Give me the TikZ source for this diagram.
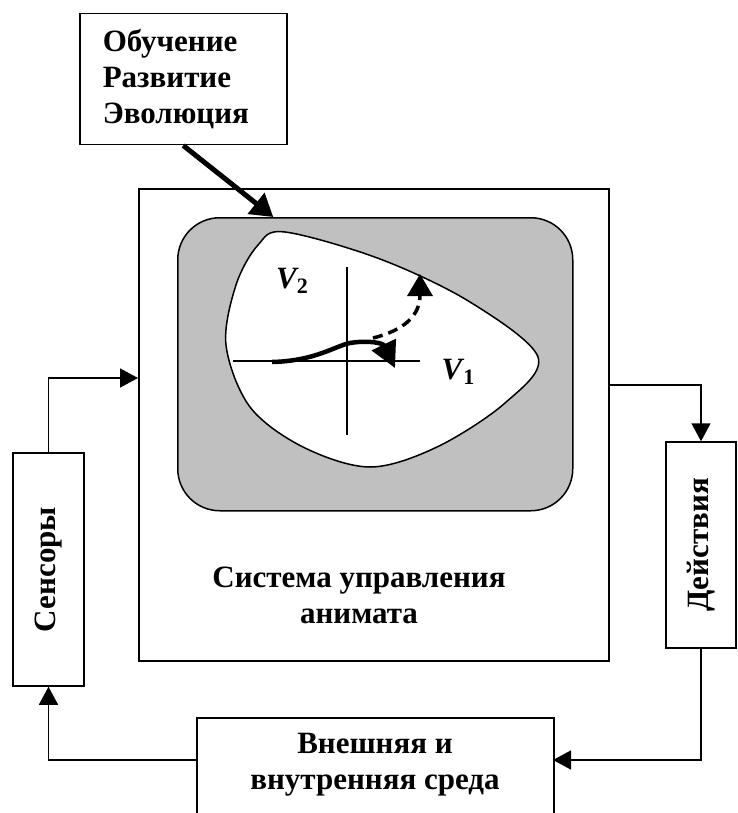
\documentclass[tikz,border=0pt]{standalone}
\usepackage{fontspec}
\setmainfont{Liberation Serif}
\usetikzlibrary{arrows.meta,calc}
\begin{document}
\begin{tikzpicture}[x=1pt,y=-1pt,
  lbl/.style={font=\fontsize{31}{36}\selectfont\bfseries, align=center},
  boxed/.style={draw, line width=1.5pt, inner sep=0pt},
  conn/.style={line width=1.5pt, -{Triangle[length=18pt,width=19pt]}},
]
\clip (0,0) rectangle (737,813);
% learning box
\node[boxed, lbl, align=left, anchor=north west, minimum width=207pt, minimum height=131pt, text width=161pt, inner xsep=23pt] (learn) at (79,13) {Обучение\\Развитие\\Эволюция};
% main system box
\node[boxed, anchor=north west, minimum width=470pt, minimum height=472pt] (sys) at (138,188) {};
% gray zone
\node[draw, line width=1.5pt, fill={rgb,255:red,192;green,192;blue,192}, rounded corners=42pt, anchor=north west, minimum width=395pt, minimum height=293pt] (zone) at (177,217) {};
% white blob
\draw[line width=1.5pt, fill=white] plot[smooth cycle, tension=0.55] coordinates {
 (285,232) (380,259) (470,302) (538,357) (505,403) (437,447) (370,467) (303,447) (250,407) (226,345) (236,285) (258,245)};
% axes
\draw[line width=1.5pt] (233,361) -- (420,361);
\draw[line width=1.5pt] (347,267) -- (347,435);
% labels V
\node[lbl, inner sep=0pt] (v2) at (292,281) {\textit{V}\kern-2pt\raisebox{-5pt}{\fontsize{22}{22}\selectfont 2}};
\node[lbl, inner sep=0pt] (v1) at (458,372) {\textit{V}\kern-1pt\raisebox{-5pt}{\fontsize{22}{22}\selectfont 1}};
% solid trajectory
\draw[line width=4.5pt, -{Triangle[length=26pt,width=26pt]}] (272,362) .. controls (315,361) and (335,346) .. (350,343) .. controls (368,340) and (383,343) .. (395,368);
% dashed trajectory
\draw[line width=3.5pt, dash pattern=on 10pt off 6pt, -{Triangle[length=22pt,width=25pt]}] (373,338) .. controls (405,330) and (420,315) .. (420,274);
% system label
\node[lbl] (syslbl) at (359,595) {Система управления\\анимата};
% sensors
\node[boxed, lbl, rotate=90, minimum width=233pt, minimum height=71pt] (sens) at (48.5,569.5) {Сенсоры};
% actions
\node[boxed, lbl, rotate=90, minimum width=206pt, minimum height=70pt] (act) at (701,545) {Действия};
% environment
\node[boxed, anchor=north west, minimum width=357pt, minimum height=140pt] (env) at (196,717) {};
\node[lbl] (envlbl) at (375,765) {Внешняя и\\внутренняя среда};
% coordinates
\coordinate (sysin) at (138,378);
\coordinate (sysout) at (608,385);
\coordinate (envin) at (553,760);
\coordinate (envout) at (196,760);
% connectors
\draw[line width=5pt, -{Triangle[length=22pt,width=26pt]}] (learn.south) -- ([xshift=-102pt]zone.north);
\draw[conn] (sens.east) |- (sysin);
\draw[conn] (sysout) -| (act.east);
\draw[conn] (act.west) |- (envin);
\draw[conn] (envout) -| (sens.west);
\end{tikzpicture}
\end{document}
